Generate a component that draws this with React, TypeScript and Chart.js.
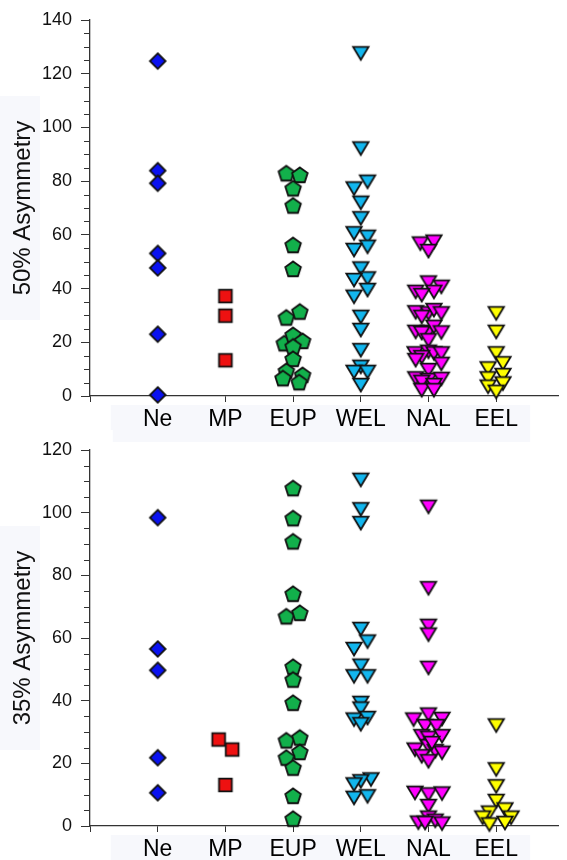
import React, { useEffect, useRef } from 'react';
import { Chart, registerables } from 'chart.js';

Chart.register(...registerables);

// ---------- DATA ----------
const categories = ['Ne', 'MP', 'EUP', 'WEL', 'NAL', 'EEL'];
const yTitleTop = '50% Asymmetry';
const yTitleBottom = '35% Asymmetry';
const yMaxTop = 140;
const yMaxBottom = 120;
const yStep = 20;
const yMinorStep = 5;

// 50% asymmetry (top panel): values and horizontal jitter (in category units)
const ne50 = [124.7, 83.9, 79.2, 53.1, 47.7, 23.0, 0.4];
const ne50Jit = [0, 0, 0, 0, 0, 0, 0];
const mp50 = [37.2, 29.9, 13.3];
const mp50Jit = [0, 0, 0];
const eup50 = [82.9, 82.3, 77.3, 70.9, 56.2, 47.3, 29.2, 31.4, 19.6, 22.7, 20.5, 18.4, 13.8, 9.3, 6.6, 7.8, 5.1];
const eup50Jit = [-0.1, 0.1, 0, 0, 0, 0, -0.1, 0.1, -0.13, 0, 0.14, 0, 0, -0.1, -0.15, 0.14, 0.09];
const wel50 = [127.6, 92.2, 79.8, 77.3, 72.0, 66.2, 60.6, 59.3, 55.6, 54.4, 47.5, 43.8, 43.2, 39.5, 37.0, 29.5, 24.6, 17.1, 10.9, 9.0, 9.0, 4.1];
const wel50Jit = [0, 0, 0.1, -0.1, 0, 0, -0.1, 0.1, 0.1, -0.1, 0, 0.1, -0.1, 0.1, -0.1, 0, 0, 0, 0, -0.1, 0.1, 0];
const nal50 = [56.8, 57.5, 54.0, 42.3, 40.7, 38.8, 38.8, 37.6, 31.2, 30.8, 32.0, 30.8, 29.5, 23.9, 23.9, 25.8, 23.7, 23.5, 20.8, 15.9, 16.5, 15.9, 15.9, 14.5, 13.4, 12.0, 9.7, 6.6, 6.0, 6.4, 5.3, 4.1, 2.2, 2.2];
const nal50Jit = [-0.12, 0.08, 0, 0, 0.19, 0.08, -0.19, -0.1, -0.19, 0, 0.08, 0.19, -0.1, -0.19, 0, 0.08, 0.19, -0.1, 0, -0.2, 0, 0.08, 0.19, -0.1, -0.19, 0.19, 0, -0.19, 0, 0.19, -0.1, 0.08, -0.1, 0.08];
const eel50 = [30.8, 23.9, 15.9, 12.2, 10.3, 7.8, 6.6, 4.7, 3.5, 1.6];
const eel50Jit = [0, 0, 0, 0.1, -0.12, 0.1, -0.12, 0.1, -0.12, 0];

// 35% asymmetry (bottom panel)
const ne35 = [98.4, 56.5, 49.7, 21.8, 10.6];
const ne35Jit = [0, 0, 0, 0, 0];
const mp35 = [27.6, 24.4, 13.1];
const mp35Jit = [-0.1, 0.1, 0];
const eup35 = [107.8, 98.2, 90.8, 74.1, 66.9, 68.0, 50.8, 46.7, 39.3, 27.3, 28.2, 23.6, 21.8, 18.6, 9.6, 2.3];
const eup35Jit = [0, 0, 0, 0, -0.1, 0.1, 0, 0, 0, -0.1, 0.1, 0.1, -0.1, 0, 0, 0];
const wel35 = [110.5, 101.1, 96.7, 62.9, 58.9, 56.5, 51.2, 47.8, 47.8, 39.3, 37.5, 34.0, 34.5, 32.5, 14.9, 14.3, 13.3, 9.0, 9.5];
const wel35Jit = [0, 0, 0, 0, 0.1, -0.1, 0, -0.1, 0.1, 0, 0, -0.1, 0.1, 0, 0.15, 0, -0.1, -0.1, 0.1];
const nal35 = [101.9, 75.9, 63.9, 61.1, 50.5, 34.0, 35.6, 34.2, 31.9, 31.9, 28.7, 28.2, 28.7, 24.4, 25.5, 23.9, 23.4, 22.3, 20.7, 26.5, 10.6, 10.1, 10.4, 6.4, 2.7, 1.1, 1.7, 0.8, 1.0];
const nal35Jit = [0, 0, 0, 0, 0, -0.22, 0, 0.2, -0.05, 0.12, -0.1, 0, 0.2, -0.2, 0, 0.1, 0.2, -0.1, 0, 0.05, -0.2, 0, 0.2, 0, 0, -0.15, 0.1, 0.2, -0.05];
const eel35 = [32.1, 18.1, 12.7, 8.0, 5.3, 4.3, 2.7, 2.7, 0.5, 1.0];
const eel35Jit = [0, 0, 0, 0, 0.13, -0.1, -0.2, 0.22, -0.1, 0.13];

// ---------- STYLES ----------
const FONT = "'Liberation Sans', Arial, sans-serif";
const shapes = ['diamond', 'square', 'pentagon', 'triDown', 'triDown', 'triDown'];
const fills = ['#0a12f0', '#ee1111', '#12b04b', '#12b6ee', '#ff00ff', '#ffff00'];

function makeMarker(shape: string, fill: string): HTMLCanvasElement {
  const S = 22;
  const c = document.createElement('canvas');
  c.width = S;
  c.height = S;
  const ctx = c.getContext('2d')!;
  const m = S / 2;
  ctx.beginPath();
  if (shape === 'diamond') {
    const r = 7.8;
    ctx.moveTo(m, m - r);
    ctx.lineTo(m + r, m);
    ctx.lineTo(m, m + r);
    ctx.lineTo(m - r, m);
  } else if (shape === 'square') {
    const h = 6.4;
    ctx.rect(m - h, m - h, 2 * h, 2 * h);
  } else if (shape === 'pentagon') {
    const r = 8.2;
    for (let k = 0; k < 5; k++) {
      const a = -Math.PI / 2 + (k * 2 * Math.PI) / 5;
      const px = m + r * Math.cos(a);
      const py = m + 0.6 + r * Math.sin(a);
      if (k === 0) ctx.moveTo(px, py);
      else ctx.lineTo(px, py);
    }
  } else {
    const w = 7.7;
    const h = 6.4;
    ctx.moveTo(m - w, m - h);
    ctx.lineTo(m + w, m - h);
    ctx.lineTo(m, m + h);
  }
  ctx.closePath();
  ctx.fillStyle = fill;
  ctx.fill();
  ctx.lineWidth = 1.8;
  ctx.lineJoin = 'miter';
  ctx.strokeStyle = '#111';
  ctx.stroke();
  return c;
}

const minorTicksPlugin = {
  id: 'minorTicks',
  afterDraw(chart: any) {
    const y = chart.scales.y;
    const ctx = chart.ctx;
    const left = chart.chartArea.left;
    ctx.save();
    ctx.strokeStyle = '#333';
    ctx.lineWidth = 1;
    for (let v = y.min; v <= y.max; v += yMinorStep) {
      if (v % yStep === 0) continue;
      const py = Math.round(y.getPixelForValue(v)) + 0.5;
      ctx.beginPath();
      ctx.moveTo(left - 6, py);
      ctx.lineTo(left, py);
      ctx.stroke();
    }
    ctx.restore();
  },
};

const bandPlugin = {
  id: 'bands',
  beforeDraw(chart: any) {
    const { ctx, chartArea, height } = chart;
    const x = chart.scales.x;
    const top = chart.options.plugins.bands?.isTop;
    ctx.save();
    ctx.fillStyle = '#f7f8fc';
    const midY = (chartArea.top + chartArea.bottom) / 2;
    ctx.fillRect(0, midY - 112, 40, 224);
    const x0 = x.getPixelForValue(-0.25) - 30;
    const x1 = x.getPixelForValue(5) + 34;
    ctx.fillRect(x0, chartArea.bottom + 9, x1 - x0, height - chartArea.bottom - 9);
    if (!top) {
      ctx.fillRect(x0 + 2, 0, x1 - x0 - 2, 12);
    }
    ctx.restore();
  },
};

function buildConfig(groups: number[][], jitters: number[][], yMax: number, title: string, isTop: boolean, images: HTMLCanvasElement[]) {
  const chartWidth = 567;
  const plotLeft = 90;
  const spacing = 69;
  const xMin = -1;
  const xMax = xMin + (chartWidth - plotLeft) / spacing;
  return {
    type: 'scatter' as const,
    data: {
      datasets: groups.map((vals, gi) => ({
        label: categories[gi],
        data: vals.map((v, i) => ({ x: gi + jitters[gi][i], y: v })),
        pointStyle: images[gi],
        pointRadius: 8,
        clip: false,
      })),
    },
    options: {
      responsive: false,
      animation: false,
      layout: { padding: { top: 20, right: 0, left: 0, bottom: 0 } },
      plugins: {
        legend: { display: false },
        tooltip: { enabled: false },
        bands: { isTop },
      },
      scales: {
        x: {
          type: 'linear',
          min: xMin,
          max: xMax,
          afterBuildTicks: (s: any) => {
            s.ticks = [-1, 0, 1, 2, 3, 4, 5].map((v) => ({ value: v }));
          },
          afterFit: (s: any) => {
            s.height = 34;
          },
          ticks: {
            callback: (v: any) => (categories[v] !== undefined ? categories[v] : ''),
            font: { family: FONT, size: 23 },
            color: '#000',
            padding: 4,
            maxRotation: 0,
            autoSkip: false,
          },
          grid: { drawOnChartArea: false, tickLength: 6, color: '#333', lineWidth: 1 },
          border: { color: '#333', width: 1.3 },
        },
        y: {
          min: 0,
          max: yMax,
          afterFit: (s: any) => {
            s.width = plotLeft;
          },
          ticks: {
            stepSize: yStep,
            font: { family: FONT, size: 18 },
            color: '#111',
            padding: 9,
          },
          grid: { drawOnChartArea: false, tickLength: 9, color: '#333', lineWidth: 1 },
          border: { color: '#333', width: 1.3 },
          title: {
            display: true,
            text: title,
            font: { family: FONT, size: 24 },
            color: '#111',
            padding: { top: 9, bottom: 0 },
          },
        },
      },
    },
    plugins: [bandPlugin, minorTicksPlugin],
  };
}

function Panel(props: { groups: number[][]; jitters: number[][]; yMax: number; title: string; isTop: boolean }) {
  const ref = useRef<HTMLCanvasElement>(null);
  useEffect(() => {
    if (!ref.current) return;
    const images = shapes.map((s, i) => makeMarker(s, fills[i]));
    const chart = new Chart(ref.current, buildConfig(props.groups, props.jitters, props.yMax, props.title, props.isTop, images) as any);
    return () => chart.destroy();
  }, []);
  return <canvas ref={ref} width={567} height={430} style={{ display: 'block', width: 567, height: 430 }} />;
}

export default function App() {
  return (
    <div style={{ position: 'absolute', left: 0, top: 0, width: 567, height: 860, background: '#fff' }}>
      <Panel
        groups={[ne50, mp50, eup50, wel50, nal50, eel50]}
        jitters={[ne50Jit, mp50Jit, eup50Jit, wel50Jit, nal50Jit, eel50Jit]}
        yMax={yMaxTop}
        title={yTitleTop}
        isTop={true}
      />
      <Panel
        groups={[ne35, mp35, eup35, wel35, nal35, eel35]}
        jitters={[ne35Jit, mp35Jit, eup35Jit, wel35Jit, nal35Jit, eel35Jit]}
        yMax={yMaxBottom}
        title={yTitleBottom}
        isTop={false}
      />
    </div>
  );
}
